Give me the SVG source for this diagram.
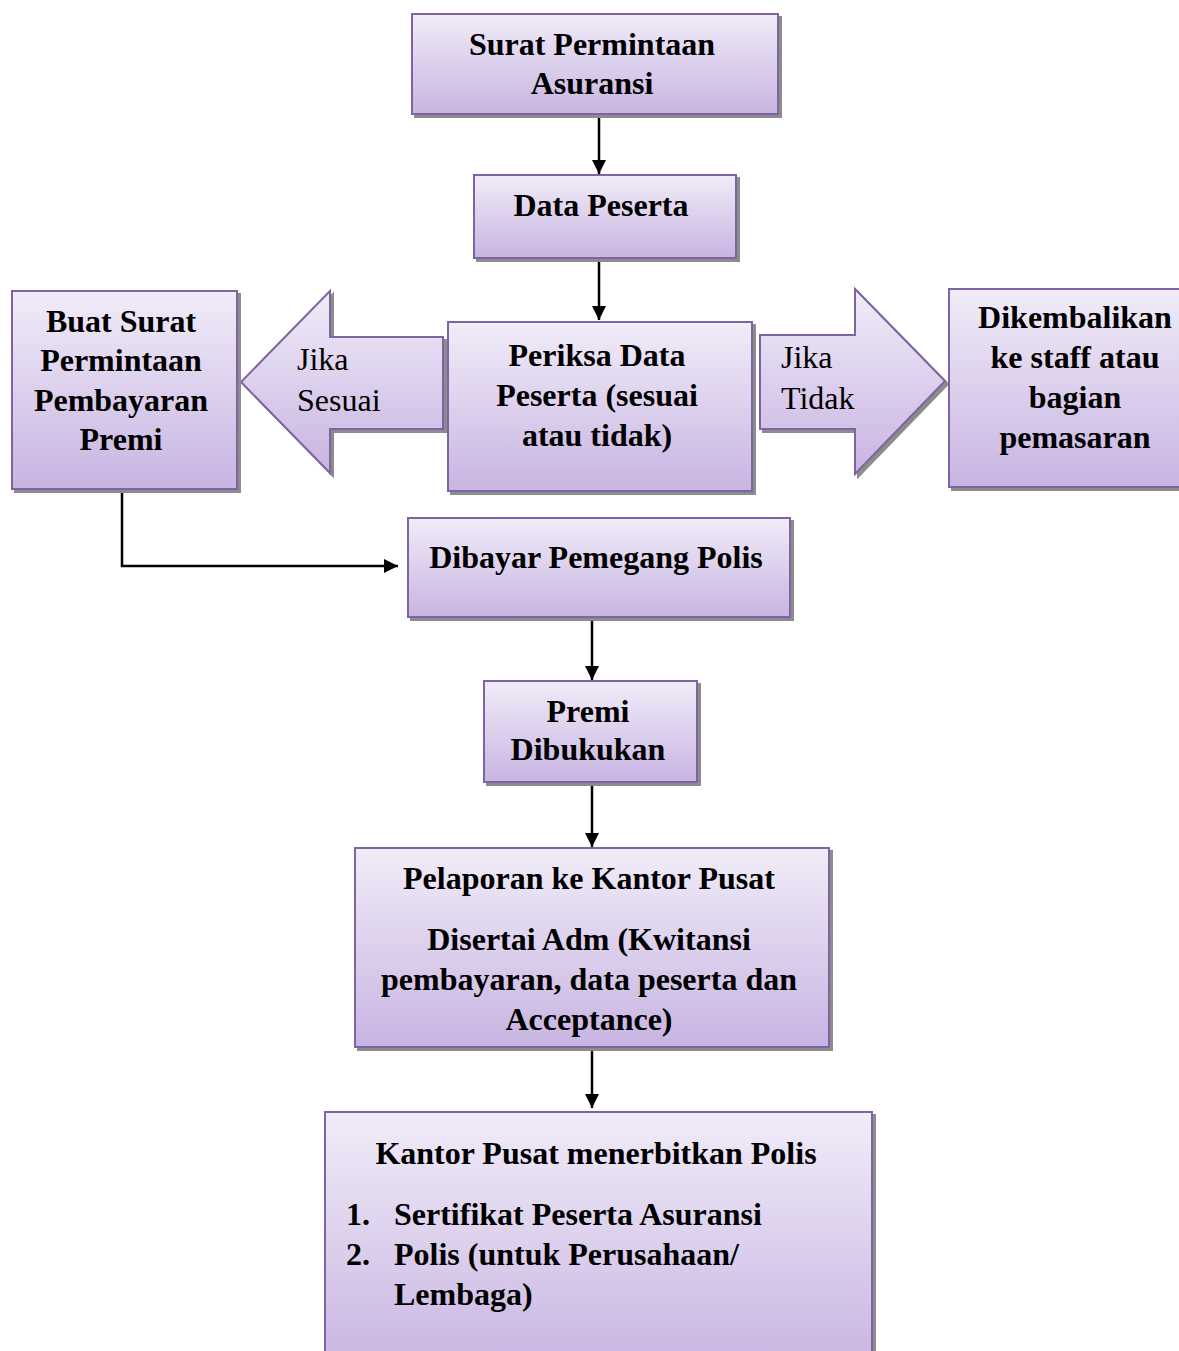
<svg xmlns="http://www.w3.org/2000/svg" width="1179" height="1351" viewBox="0 0 1179 1351">
<defs>
<linearGradient id="g" x1="0" y1="0" x2="0" y2="1">
<stop offset="0" stop-color="#f1ecf8"/>
<stop offset="1" stop-color="#c8b4e2"/>
</linearGradient>
<marker id="ah" markerWidth="14" markerHeight="14" viewBox="0 0 14 14" refX="14" refY="7" orient="auto" markerUnits="userSpaceOnUse">
<path d="M0,0 L14,7 L0,14 Z" fill="#000"/>
</marker>
<filter id="sh" x="-5%" y="-5%" width="115%" height="115%">
<feOffset dx="3" dy="3" in="SourceAlpha" result="o"/>
<feFlood flood-color="#8c8c8c"/>
<feComposite operator="in" in2="o"/>
<feMerge><feMergeNode/><feMergeNode in="SourceGraphic"/></feMerge>
</filter>
</defs>
<style>
.box{fill:url(#g);stroke:#8064a2;stroke-width:2;filter:url(#sh)}
.t{font-family:"Liberation Serif","Times New Roman",serif;font-size:32px;font-weight:bold;fill:#000;text-anchor:middle}
.l{font-family:"Liberation Serif","Times New Roman",serif;font-size:32px;fill:#000}
.lb{font-family:"Liberation Serif","Times New Roman",serif;font-size:32px;font-weight:bold;fill:#000}
.c{fill:none;stroke:#000;stroke-width:2.5;marker-end:url(#ah)}
</style>
<rect width="1179" height="1351" fill="#fff"/>
<g id="connectors">
<line class="c" x1="599" y1="114" x2="599" y2="174"/>
<line class="c" x1="599" y1="258" x2="599" y2="320"/>
<polyline class="c" points="122,489 122,566 398,566"/>
<line class="c" x1="592" y1="617" x2="592" y2="680"/>
<line class="c" x1="592" y1="782" x2="592" y2="847"/>
<line class="c" x1="592" y1="1047" x2="592" y2="1108"/>
</g>
<g id="n1">
<rect class="box" x="412" y="14" width="366" height="100"/>
<text class="t" x="592" y="55">Surat Permintaan</text>
<text class="t" x="592" y="94">Asuransi</text>
</g>
<g id="n2">
<rect class="box" x="474" y="175" width="262" height="83"/>
<text class="t" x="601" y="216">Data Peserta</text>
</g>
<g id="n3">
<rect class="box" x="448" y="322" width="304" height="169"/>
<text class="t" x="597" y="366">Periksa Data</text>
<text class="t" x="597" y="406">Peserta (sesuai</text>
<text class="t" x="597" y="446">atau tidak)</text>
</g>
<g id="arrowLeft">
<polygon class="box" points="443,337 330,337 330,291 241,382 330,473 330,429 443,429"/>
<text class="l" x="297" y="370">Jika</text>
<text class="l" x="297" y="411">Sesuai</text>
</g>
<g id="arrowRight">
<polygon class="box" points="760,335 855,335 855,289 945,381 855,474 855,429 760,429"/>
<text class="l" x="781" y="368">Jika</text>
<text class="l" x="781" y="409">Tidak</text>
</g>
<g id="n4">
<rect class="box" x="12" y="291" width="225" height="198"/>
<text class="t" x="121" y="332">Buat Surat</text>
<text class="t" x="121" y="371">Permintaan</text>
<text class="t" x="121" y="411">Pembayaran</text>
<text class="t" x="121" y="450">Premi</text>
</g>
<g id="n5">
<rect class="box" x="949" y="289" width="240" height="198"/>
<text class="t" x="1075" y="328">Dikembalikan</text>
<text class="t" x="1075" y="368">ke staff atau</text>
<text class="t" x="1075" y="408">bagian</text>
<text class="t" x="1075" y="448">pemasaran</text>
</g>
<g id="n6">
<rect class="box" x="408" y="518" width="382" height="99"/>
<text class="t" x="596" y="568">Dibayar Pemegang Polis</text>
</g>
<g id="n7">
<rect class="box" x="484" y="681" width="213" height="101"/>
<text class="t" x="588" y="722">Premi</text>
<text class="t" x="588" y="760">Dibukukan</text>
</g>
<g id="n8">
<rect class="box" x="355" y="848" width="474" height="199"/>
<text class="t" x="589" y="889">Pelaporan ke Kantor Pusat</text>
<text class="t" x="589" y="950">Disertai Adm (Kwitansi</text>
<text class="t" x="589" y="990">pembayaran, data peserta dan</text>
<text class="t" x="589" y="1030">Acceptance)</text>
</g>
<g id="n9">
<rect class="box" x="325" y="1112" width="547" height="260"/>
<text class="t" x="596" y="1164">Kantor Pusat menerbitkan Polis</text>
<text class="lb" x="346" y="1225">1.</text>
<text class="lb" x="394" y="1225">Sertifikat Peserta Asuransi</text>
<text class="lb" x="346" y="1265">2.</text>
<text class="lb" x="394" y="1265">Polis (untuk Perusahaan/</text>
<text class="lb" x="394" y="1305">Lembaga)</text>
</g>
</svg>
